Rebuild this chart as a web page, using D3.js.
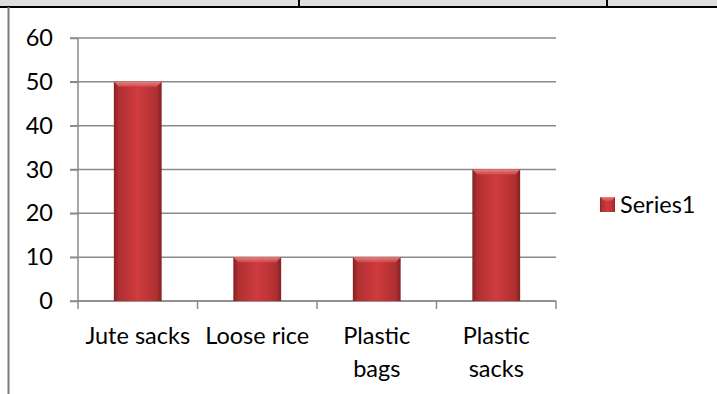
<!DOCTYPE html>
<html>
<head>
<meta charset="utf-8">
<script src="https://cdn.jsdelivr.net/npm/d3@7"></script>
<style>
  html, body { margin: 0; padding: 0; background: #fff; }
  svg { display: block; }
  text { font-family: Lato, "Open Sans", sans-serif; fill: #000; }
</style>
</head>
<body>
<svg id="chart" width="717" height="394"></svg>
<script>
// Storage method survey
const categories = ["Jute sacks", "Loose rice", "Plastic bags", "Plastic sacks"];
const categoryLines = [["Jute sacks"], ["Loose rice"], ["Plastic", "bags"], ["Plastic", "sacks"]];
const series1 = [50, 10, 10, 30];
const yTicks = [0, 10, 20, 30, 40, 50, 60];
const seriesName = "Series1";

const svg = d3.select("#chart");
const W = 717, H = 394;
const fontSize = 23.5;

// page frame around the chart (table cell borders)
svg.append("rect").attr("x", 0).attr("y", 0).attr("width", W).attr("height", 6).attr("fill", "#dedede");
svg.append("line").attr("x1", 0).attr("x2", W).attr("y1", 7).attr("y2", 7)
  .attr("stroke", "#000").attr("stroke-width", 2);
[299, 607].forEach(x => svg.append("line").attr("x1", x).attr("x2", x).attr("y1", 0).attr("y2", 7)
  .attr("stroke", "#000").attr("stroke-width", 2));
svg.append("line").attr("x1", 8.5).attr("x2", 8.5).attr("y1", 7).attr("y2", H)
  .attr("stroke", "#7a7a7a").attr("stroke-width", 2);

const plot = { left: 78, right: 556, top: 38, bottom: 301 };

const x = d3.scaleBand().domain(categories).range([plot.left, plot.right]).paddingInner(0).paddingOuter(0);
const y = d3.scaleLinear().domain([0, 60]).range([plot.bottom, plot.top]);

const defs = svg.append("defs");
const grad = defs.append("linearGradient").attr("id", "barGrad").attr("x1", "0").attr("x2", "1").attr("y1", "0").attr("y2", "0");
[[0, "#862022"], [0.1, "#ae2f32"], [0.5, "#d03b3e"], [0.9, "#ae2f32"], [1, "#862022"]]
  .forEach(([o, c]) => grad.append("stop").attr("offset", o).attr("stop-color", c));
const capGrad = defs.append("linearGradient").attr("id", "capGrad").attr("x1", "0").attr("x2", "0").attr("y1", "0").attr("y2", "1");
[[0, "#f08c8c"], [1, "#d24a4b"]].forEach(([o, c]) => capGrad.append("stop").attr("offset", o).attr("stop-color", c));

// gridlines (with outside tick marks)
const gridColor = "#8a8a8a";
svg.append("g").selectAll("line").data(yTicks).join("line")
  .attr("x1", plot.left - 8).attr("x2", plot.right)
  .attr("y1", d => y(d)).attr("y2", d => y(d))
  .attr("stroke", gridColor).attr("stroke-width", 1.5);

// y axis
const yAxis = svg.append("g").attr("transform", `translate(${plot.left},0)`)
  .call(d3.axisLeft(y).tickValues(yTicks).tickSize(8).tickPadding(17));
yAxis.select(".domain").attr("stroke", gridColor).attr("stroke-width", 1.5).attr("d", `M0,${plot.top}V${plot.bottom}`);
yAxis.selectAll(".tick line").attr("stroke", gridColor).attr("stroke-width", 1.5);
yAxis.selectAll(".tick text").attr("font-size", fontSize).attr("font-family", "Lato, sans-serif").attr("fill", "#000");

// x axis: ticks at category boundaries
const bounds = categories.map(c => x(c)).concat([plot.right]);
svg.append("g").selectAll("line").data(bounds).join("line")
  .attr("x1", d => d).attr("x2", d => d).attr("y1", plot.bottom).attr("y2", plot.bottom + 8)
  .attr("stroke", gridColor).attr("stroke-width", 1.5);
svg.append("line").attr("x1", plot.left).attr("x2", plot.right).attr("y1", plot.bottom).attr("y2", plot.bottom)
  .attr("stroke", gridColor).attr("stroke-width", 1.5);

// bars
const barW = x.bandwidth() * 0.4;
const bars = svg.append("g").selectAll("g").data(categories).join("g");
bars.append("rect")
  .attr("x", d => x(d) + (x.bandwidth() - barW) / 2)
  .attr("y", (d, i) => y(series1[i]))
  .attr("width", barW)
  .attr("height", (d, i) => y(0) - y(series1[i]))
  .attr("fill", "url(#barGrad)");
bars.append("path")
  .attr("d", (d, i) => {
    const x0 = x(d) + (x.bandwidth() - barW) / 2, x1 = x0 + barW, t = y(series1[i]);
    return `M${x0},${t}H${x1}L${x1 - 5},${t + 5}H${x0 + 5}Z`;
  })
  .attr("fill", "url(#capGrad)").attr("opacity", 0.85);

// category labels
const lbl = svg.append("g").selectAll("text").data(categories).join("text")
  .attr("x", d => x(d) + x.bandwidth() / 2)
  .attr("y", 344)
  .attr("text-anchor", "middle")
  .attr("font-size", fontSize);
lbl.selectAll("tspan").data((d, i) => categoryLines[i]).join("tspan")
  .attr("x", function () { return d3.select(this.parentNode).attr("x"); })
  .attr("dy", (d, j) => j === 0 ? 0 : 33)
  .text(d => d);

// legend
svg.append("rect").attr("x", 600).attr("y", 197).attr("width", 15).attr("height", 15).attr("fill", "url(#barGrad)");
svg.append("path").attr("d", "M600,197H615L611,201H604Z").attr("fill", "url(#capGrad)").attr("opacity", 0.85);
svg.append("text").attr("x", 620).attr("y", 213).attr("font-size", fontSize).text(seriesName);
</script>
</body>
</html>
